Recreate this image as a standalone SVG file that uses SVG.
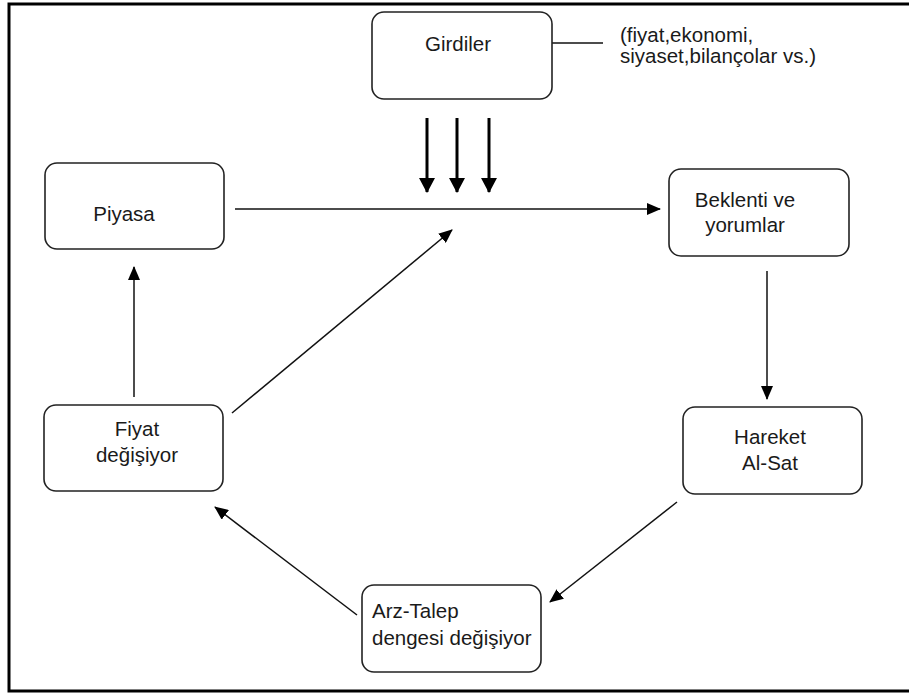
<svg xmlns="http://www.w3.org/2000/svg" width="909" height="695" viewBox="0 0 909 695">
<style>
.box{fill:#fff;stroke:#222;stroke-width:1.6}
.t{font-family:"Liberation Sans",Arial,sans-serif;font-size:20.5px;fill:#1a1a1a}
.c{text-anchor:middle}
.ln{stroke:#111;stroke-width:1.5;fill:none}
.thick{stroke:#000;stroke-width:3;fill:none}
.frame{stroke:#000;stroke-width:3;fill:none}
</style>
<defs>
<marker id="ah" viewBox="0 0 14 12" refX="13" refY="6" markerWidth="14" markerHeight="12" orient="auto" markerUnits="userSpaceOnUse"><path d="M0,0 L14,6 L0,12 z" fill="#000"/></marker>
<marker id="ahb" viewBox="0 0 15 16" refX="14" refY="8" markerWidth="15" markerHeight="16" orient="auto" markerUnits="userSpaceOnUse"><path d="M0,0 L15,8 L0,16 z" fill="#000"/></marker>
</defs>
<rect width="909" height="695" fill="#fff"/>
<path class="frame" d="M909,4 H9 V691 H909"/>
<g id="connectors">
<line class="ln" x1="533" y1="43" x2="603" y2="43"/>
<line class="thick" x1="427" y1="118" x2="427" y2="192" marker-end="url(#ahb)"/>
<line class="thick" x1="457" y1="118" x2="457" y2="192" marker-end="url(#ahb)"/>
<line class="thick" x1="489" y1="118" x2="489" y2="192" marker-end="url(#ahb)"/>
<line class="ln" x1="235" y1="209" x2="660" y2="209" marker-end="url(#ah)"/>
<line class="ln" x1="767" y1="271" x2="767" y2="399" marker-end="url(#ah)"/>
<line class="ln" x1="677" y1="502" x2="550" y2="602" marker-end="url(#ah)"/>
<line class="ln" x1="357" y1="615" x2="215" y2="507" marker-end="url(#ah)"/>
<line class="ln" x1="134" y1="397" x2="134" y2="267" marker-end="url(#ah)"/>
<line class="ln" x1="232" y1="413" x2="452" y2="230" marker-end="url(#ah)"/>
</g>
<g id="girdiler">
<rect class="box" x="372" y="12" width="180" height="87" rx="12"/>
<text class="t c" x="458" y="51">Girdiler</text>
</g>
<g id="note">
<text class="t" x="620" y="42">(fiyat,ekonomi,</text>
<text class="t" x="620" y="63">siyaset,bilançolar vs.)</text>
</g>
<g id="piyasa">
<rect class="box" x="45" y="163" width="179" height="86" rx="12"/>
<text class="t c" x="124" y="221">Piyasa</text>
</g>
<g id="beklenti">
<rect class="box" x="669" y="169" width="180" height="87" rx="12"/>
<text class="t c" x="745" y="207">Beklenti ve</text>
<text class="t c" x="745" y="232">yorumlar</text>
</g>
<g id="hareket">
<rect class="box" x="683" y="407" width="179" height="87" rx="12"/>
<text class="t c" x="770" y="444">Hareket</text>
<text class="t c" x="770" y="470">Al-Sat</text>
</g>
<g id="fiyat">
<rect class="box" x="44" y="405" width="179" height="86" rx="12"/>
<text class="t c" x="137" y="436">Fiyat</text>
<text class="t c" x="137" y="462">değişiyor</text>
</g>
<g id="arztalep">
<rect class="box" x="362" y="585" width="179" height="87" rx="12"/>
<text class="t" x="372" y="618">Arz-Talep</text>
<text class="t" x="372" y="645">dengesi değişiyor</text>
</g>
</svg>
